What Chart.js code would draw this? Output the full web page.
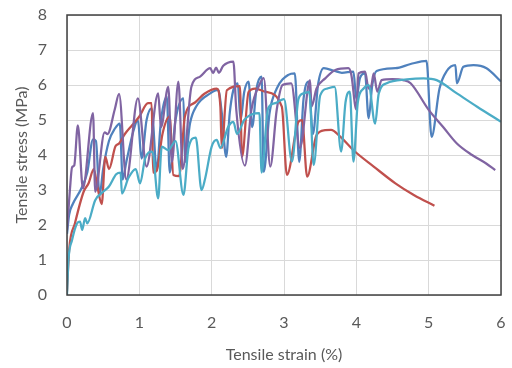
<!DOCTYPE html>
<html>
<head>
<meta charset="utf-8">
<script src="https://cdn.jsdelivr.net/npm/chart.js@4"></script>
<style>
  html, body { margin: 0; padding: 0; background: #fff; }
  #wrap { width: 512px; height: 368px; }
</style>
</head>
<body>
<div id="wrap"><canvas id="chart" width="512" height="368"></canvas></div>
<script>
// tensile tests, strain (%) vs stress (MPa)

const xTicks = [0, 1, 2, 3, 4, 5, 6];
const yTicks = [0, 1, 2, 3, 4, 5, 6, 7, 8];

const blueCurve = [
  [0, 1.75], [0.03, 2.3], [0.08, 2.6], [0.2, 3.05], [0.28, 3.5], [0.36, 4.45], [0.4, 4.4],
  [0.45, 2.85], [0.5, 3.6], [0.58, 4.4], [0.66, 4.75], [0.73, 4.9], [0.77, 3.3], [0.82, 3.8],
  [0.92, 4.7], [0.98, 5.0], [1.03, 3.9], [1.1, 5.0], [1.17, 5.33], [1.24, 3.57], [1.3, 5.0],
  [1.38, 5.67], [1.42, 3.5], [1.5, 5.0], [1.61, 5.62], [1.63, 3.8], [1.7, 4.9], [1.79, 5.4],
  [1.98, 5.76], [2.09, 5.86], [2.14, 5.2], [2.2, 3.95], [2.25, 5.2], [2.3, 5.86], [2.36, 6.05],
  [2.4, 5.0], [2.45, 5.8], [2.51, 6.1], [2.56, 4.8], [2.62, 5.9], [2.69, 6.24], [2.72, 3.52],
  [2.8, 5.2], [2.9, 5.9], [3.06, 6.29], [3.15, 6.33], [3.21, 3.8], [3.27, 5.6], [3.34, 6.1],
  [3.4, 4.6], [3.47, 6.0], [3.55, 6.48], [3.7, 6.4], [3.8, 6.35], [3.96, 6.38], [4.0, 5.6],
  [4.05, 6.2], [4.12, 6.33], [4.17, 5.05], [4.22, 6.0], [4.28, 6.4], [4.54, 6.48], [4.75, 6.6],
  [4.97, 6.69], [5.04, 4.52], [5.15, 5.9], [5.25, 6.4], [5.37, 6.57], [5.39, 6.05], [5.48, 6.52],
  [5.62, 6.57], [5.8, 6.48], [6.0, 6.1]
];

const redCurve = [
  [0, 0.1], [0.03, 1.3], [0.11, 2.05], [0.23, 2.95], [0.3, 3.2], [0.37, 3.6], [0.42, 3.1],
  [0.48, 2.6], [0.53, 3.95], [0.58, 3.6], [0.67, 4.25], [0.72, 4.33], [0.8, 4.6], [0.9, 4.85],
  [1.0, 5.1], [1.12, 5.48], [1.17, 5.48], [1.19, 3.5], [1.24, 3.55], [1.32, 4.6], [1.42, 5.1],
  [1.47, 3.43], [1.55, 3.4], [1.63, 5.1], [1.77, 5.5], [1.9, 5.75], [2.07, 5.9], [2.12, 5.4],
  [2.14, 4.2], [2.21, 5.85], [2.39, 5.97], [2.42, 3.95], [2.51, 5.8], [2.6, 5.9], [2.74, 5.81],
  [2.97, 5.38], [3.04, 3.43], [3.2, 4.95], [3.25, 5.0], [3.32, 3.38], [3.45, 4.57], [3.57, 4.71],
  [3.65, 4.72], [3.78, 4.52], [3.98, 4.1], [4.24, 3.67], [4.54, 3.19], [4.8, 2.85], [5.08, 2.55]
];

const purpleCurve = [
  [0, 1.85], [0.04, 3.0], [0.07, 3.65], [0.1, 3.7], [0.15, 4.85], [0.22, 3.05], [0.36, 5.2],
  [0.39, 2.95], [0.52, 4.65], [0.56, 4.6], [0.66, 5.3], [0.72, 5.75], [0.82, 3.3], [0.98, 5.62],
  [1.1, 3.67], [1.26, 5.76], [1.3, 4.8], [1.4, 5.95], [1.45, 3.8], [1.54, 6.1], [1.6, 3.6],
  [1.72, 5.95], [1.84, 6.24], [1.98, 6.48], [2.02, 6.34], [2.06, 6.5], [2.1, 6.35], [2.16, 6.55],
  [2.3, 6.67], [2.34, 5.3], [2.46, 3.7], [2.55, 5.3], [2.67, 6.05], [2.72, 6.2], [2.81, 3.67],
  [2.9, 5.3], [2.98, 6.0], [3.1, 6.05], [3.22, 4.2], [3.36, 6.14], [3.38, 5.38], [3.45, 5.9],
  [3.57, 6.19], [3.71, 6.43], [3.89, 6.48], [3.93, 6.3], [4.0, 5.3], [4.03, 6.33], [4.12, 6.38],
  [4.17, 5.9], [4.21, 6.0], [4.24, 6.33], [4.29, 5.81], [4.35, 6.14], [4.5, 6.17], [4.65, 6.14],
  [4.75, 6.05], [5.0, 5.29], [5.2, 4.8], [5.39, 4.33], [5.6, 4.0], [5.8, 3.75], [5.92, 3.57]
];

const cyanCurve = [
  [0, 0], [0.02, 1.0], [0.07, 1.57], [0.14, 2.05], [0.18, 2.1], [0.21, 1.86], [0.25, 2.2],
  [0.28, 2.05], [0.39, 2.71], [0.5, 2.95], [0.58, 3.1], [0.68, 3.45], [0.74, 3.5], [0.76, 2.9],
  [0.85, 3.35], [0.95, 3.6], [1.01, 3.19], [1.08, 3.9], [1.18, 4.1], [1.26, 2.76], [1.31, 4.24],
  [1.4, 4.14], [1.5, 4.4], [1.61, 2.86], [1.68, 4.2], [1.78, 4.5], [1.86, 3.0], [1.91, 3.33],
  [2.0, 4.24], [2.07, 4.43], [2.12, 4.2], [2.23, 4.81], [2.3, 4.95], [2.35, 4.6], [2.45, 5.0],
  [2.6, 5.19], [2.66, 5.2], [2.69, 3.5], [2.78, 5.33], [2.88, 5.48], [3.0, 5.6], [3.11, 3.81],
  [3.2, 5.6], [3.27, 5.76], [3.35, 5.8], [3.41, 3.71], [3.5, 5.7], [3.6, 5.9], [3.7, 5.95],
  [3.79, 4.1], [3.85, 5.5], [3.91, 5.81], [3.96, 3.81], [4.02, 5.5], [4.1, 5.9], [4.17, 6.0],
  [4.26, 4.9], [4.31, 5.76], [4.42, 6.05], [4.7, 6.16], [4.93, 6.19], [5.11, 6.14], [5.39, 5.76],
  [5.67, 5.38], [6.0, 4.95]
];

const toPoints = arr => arr.map(p => ({ x: p[0], y: p[1] }));

function curve(label, pts, color) {
  return {
    label: label,
    data: toPoints(pts),
    borderColor: color,
    borderWidth: 2.25,
    pointRadius: 0,
    fill: false,
    cubicInterpolationMode: 'monotone'
  };
}

// plot frame like the excel box
const frame = {
  id: 'frame',
  afterDatasetsDraw(chart) {
    const a = chart.chartArea, c = chart.ctx;
    c.save();
    c.strokeStyle = '#404040';
    c.lineWidth = 1.5;
    c.strokeRect(a.left, a.top, a.right - a.left, a.bottom - a.top);
    c.restore();
  }
};

Chart.defaults.font.family = 'Lato, "Open Sans", sans-serif';
Chart.defaults.color = '#595959';

new Chart(document.getElementById('chart'), {
  type: 'line',
  data: {
    datasets: [
      curve('Sample 4', cyanCurve, '#4BACC6'),
      curve('Sample 3', purpleCurve, '#8064A2'),
      curve('Sample 2', redCurve, '#C0504D'),
      curve('Sample 1', blueCurve, '#4F81BD')
    ]
  },
  options: {
    responsive: false,
    animation: false,
    layout: { padding: { top: 15, right: 11, left: 8, bottom: 0 } },
    plugins: { legend: { display: false }, tooltip: { enabled: false } },
    scales: {
      x: {
        type: 'linear',
        min: 0, max: 6,
        afterBuildTicks: s => { s.ticks = xTicks.map(v => ({ value: v })); },
        afterFit: s => { s.height = 73; s.paddingLeft = 0; s.paddingRight = 0; },
        grid: { color: '#d9d9d9', lineWidth: 1, drawTicks: false },
        border: { display: false },
        ticks: { font: { size: 16 }, padding: 18 },
        title: { display: true, text: 'Tensile strain (%)', font: { size: 16 }, padding: { top: 4 } }
      },
      y: {
        type: 'linear',
        min: 0, max: 8,
        afterBuildTicks: s => { s.ticks = yTicks.map(v => ({ value: v })); },
        afterFit: s => { s.width = 59; s.paddingTop = 0; s.paddingBottom = 0; },
        grid: { color: '#d9d9d9', lineWidth: 1, drawTicks: false },
        border: { display: false },
        ticks: { font: { size: 16 }, padding: 20 },
        title: { display: true, text: 'Tensile stress (MPa)', font: { size: 16 }, padding: { bottom: 4 } }
      }
    }
  },
  plugins: [frame]
});
</script>
</body>
</html>
